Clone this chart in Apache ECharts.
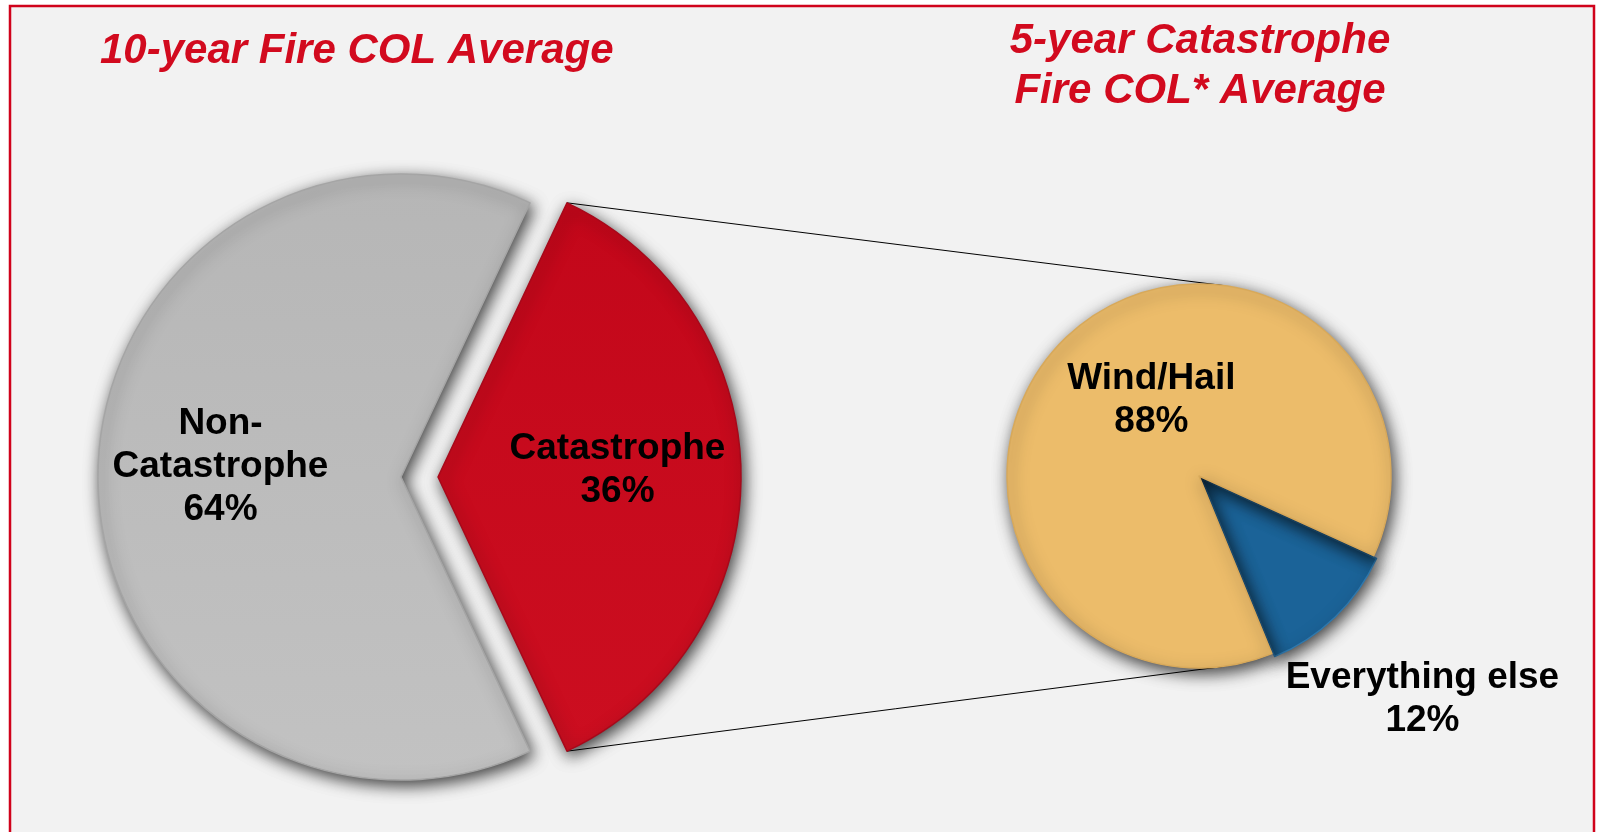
<!DOCTYPE html>
<html>
<head>
<meta charset="utf-8">
<script src="https://cdn.jsdelivr.net/npm/echarts@6.0.0/dist/echarts.min.js"></script>
<style>
  html, body { margin: 0; padding: 0; background: #fff; }
  #chart { width: 1598px; height: 832px; }
</style>
</head>
<body>
<div id="chart"></div>
<script>
// first pie: 10-year fire COL
const mainNames = ['Catastrophe', 'Non-Catastrophe'];
const mainValues = [36, 64];
// second pie: what the catastrophe part is made of (5-year)
const catNames = ['Everything else', 'Wind/Hail'];
const catValues = [12, 88];

const titleLeft = '10-year Fire COL Average';
const titleRight = '5-year Catastrophe\nFire COL* Average';

const FONT = '"Liberation Sans", Arial, Helvetica, sans-serif';
const RED = '#d20a1e';

// layout of the two pies
const big = { cx: 401, cy: 477, r: 303, explode: 37 };
const small = { cx: 1199, cy: 476, r: 192 };

// the catastrophe slice is centred on 3 o'clock
const catHalf = 360 * mainValues[0] / (mainValues[0] + mainValues[1]) / 2;

// tangent point on circle c seen from point (px, py)
function tangentPoint(px, py, c, upper) {
  const dx = px - c.cx, dy = py - c.cy;
  const d = Math.sqrt(dx * dx + dy * dy);
  const base = Math.atan2(dy, dx);
  const a = Math.acos(c.r / d);
  const t = upper ? base + a : base - a;
  return [c.cx + c.r * Math.cos(t), c.cy + c.r * Math.sin(t)];
}

const rad = catHalf * Math.PI / 180;
const cornerTop = [big.cx + big.explode + big.r * Math.cos(rad), big.cy - big.r * Math.sin(rad)];
const cornerBot = [big.cx + big.explode + big.r * Math.cos(rad), big.cy + big.r * Math.sin(rad)];
const tanTop = tangentPoint(cornerTop[0], cornerTop[1], small, true);
const tanBot = tangentPoint(cornerBot[0], cornerBot[1], small, false);

const labelStyle = {
  show: true,
  position: 'inside',
  color: '#000',
  fontSize: 37,
  fontWeight: 'bold',
  fontFamily: FONT,
  lineHeight: 43,
  align: 'center',
  formatter: function (p) {
    return p.name.replace('-', '-\n') + '\n' + p.percent + '%';
  }
};

const shadow = {
  shadowBlur: 16,
  shadowColor: 'rgba(0,0,0,0.75)',
  shadowOffsetX: 3,
  shadowOffsetY: 5
};

function grad(c1, c2) {
  return new echarts.graphic.LinearGradient(0, 0, 0, 1, [
    { offset: 0, color: c1 },
    { offset: 1, color: c2 }
  ]);
}

const chart = echarts.init(document.getElementById('chart'), null, { renderer: 'canvas' });

const option = {
  backgroundColor: '#ffffff',
  animation: false,
  graphic: [
    {
      type: 'rect',
      z: -10,
      shape: { x: 10, y: 6, width: 1584, height: 840 },
      style: { fill: '#f2f2f2', stroke: '#d0021b', lineWidth: 2.5 }
    },
    {
      type: 'text',
      x: 100, y: 51,
      style: {
        text: titleLeft, fill: RED,
        fontSize: 42, fontWeight: 'bold', fontStyle: 'italic', fontFamily: FONT,
        textAlign: 'left', textVerticalAlign: 'middle'
      }
    },
    {
      type: 'text',
      x: 1200, y: 66,
      style: {
        text: titleRight, fill: RED,
        fontSize: 42, fontWeight: 'bold', fontStyle: 'italic', fontFamily: FONT,
        lineHeight: 50, textAlign: 'center', textVerticalAlign: 'middle'
      }
    },
    {
      type: 'line',
      z: -5,
      shape: { x1: cornerTop[0], y1: cornerTop[1], x2: tanTop[0], y2: tanTop[1] },
      style: { stroke: '#000', lineWidth: 1 }
    },
    {
      type: 'line',
      z: -5,
      shape: { x1: cornerBot[0], y1: cornerBot[1], x2: tanBot[0], y2: tanBot[1] },
      style: { stroke: '#000', lineWidth: 1 }
    }
  ],
  series: [
    {
      type: 'pie',
      center: [big.cx, big.cy],
      radius: big.r,
      startAngle: catHalf,
      clockwise: true,
      selectedMode: 'single',
      selectedOffset: big.explode,
      avoidLabelOverlap: false,
      emphasis: { disabled: true },
      label: labelStyle,
      labelLine: { show: false },
      labelLayout: function (p) {
        return p.dataIndex === 0 ? { dx: 25, dy: -7 } : { dx: -26, dy: -10 };
      },
      data: mainNames.map(function (n, i) {
        return {
          name: n,
          value: mainValues[i],
          selected: i === 0,
          itemStyle: Object.assign({
            color: i === 0 ? grad('#c3071a', '#cc0e20') : grad('#b6b6b6', '#c2c2c2'),
            borderColor: i === 0 ? '#a8081a' : '#a5a5a5',
            borderWidth: 1.5
          }, shadow)
        };
      })
    },
    {
      type: 'pie',
      center: [small.cx, small.cy],
      radius: small.r,
      startAngle: -24.5,
      clockwise: true,
      selectedMode: 'single',
      selectedOffset: 4,
      avoidLabelOverlap: false,
      emphasis: { disabled: true },
      label: labelStyle,
      labelLine: { show: false },
      labelLayout: function (p) {
        return p.dataIndex === 0 ? { dx: 152, dy: 149 } : { dx: 21, dy: -4 };
      },
      data: catNames.map(function (n, i) {
        return {
          name: n,
          value: catValues[i],
          selected: i === 0,
          itemStyle: Object.assign({
            color: i === 0 ? '#1b6398' : '#ecbc6a',
            borderColor: i === 0 ? '#2f78ad' : '#d8a95a',
            borderWidth: 1.5
          }, shadow)
        };
      })
    }
  ]
};

chart.setOption(option);
</script>
</body>
</html>
